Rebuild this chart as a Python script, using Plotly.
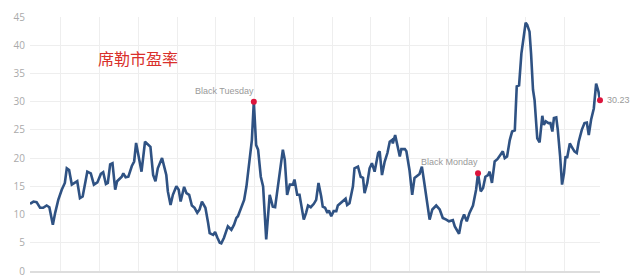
import plotly.graph_objects as go

# Shiller P/E (CAPE)
years = [
    1872.0, 1872.9, 1873.7, 1874.6, 1875.4, 1876.3, 1877.0, 1877.9, 1878.5, 1879.3,
    1880.2, 1881.0, 1881.5, 1882.1, 1882.8, 1883.6, 1884.2, 1884.9, 1885.6, 1886.8,
    1887.7, 1888.5, 1889.4, 1890.3, 1890.9, 1891.6, 1892.1, 1892.7, 1893.3, 1894.0,
    1894.5, 1895.7, 1896.1, 1896.7, 1897.4, 1898.3, 1898.9, 1899.4, 1900.0, 1900.8,
    1901.7, 1902.5, 1903.1, 1903.8, 1904.4, 1905.0, 1906.1, 1907.2, 1907.6, 1908.3,
    1908.9, 1909.8, 1910.4, 1910.9, 1911.8, 1912.4, 1913.1, 1913.8, 1914.5, 1915.2,
    1915.8, 1916.4, 1917.3, 1918.0, 1918.4, 1919.3, 1919.8, 1920.4, 1921.0, 1921.4,
    1922.1, 1923.1, 1923.6, 1924.0, 1924.7, 1925.3, 1925.7, 1926.6, 1927.3, 1927.9,
    1928.7, 1929.3, 1929.8, 1930.4, 1930.9, 1931.6, 1932.2, 1932.6, 1933.0, 1933.9,
    1934.7, 1935.3, 1936.5, 1937.3, 1937.8, 1938.4, 1939.1, 1939.9, 1940.3, 1941.0,
    1941.6, 1942.2, 1942.7, 1943.3, 1943.8, 1944.5, 1945.3, 1945.9, 1946.5, 1947.2,
    1947.6, 1948.2, 1948.8, 1949.2, 1949.8, 1950.4, 1951.1, 1951.5, 1952.2, 1953.0,
    1953.5, 1953.9, 1954.5, 1955.4, 1955.8, 1956.7, 1957.4, 1958.0, 1958.4, 1959.1,
    1959.7, 1960.3, 1961.0, 1961.9, 1962.3, 1962.9, 1963.6, 1964.3, 1964.9, 1965.5,
    1965.7, 1966.3, 1966.8, 1967.5, 1967.9, 1968.8, 1969.2, 1970.0, 1970.7, 1971.3,
    1972.6, 1973.2, 1973.7, 1974.8, 1975.2, 1975.9, 1976.9, 1977.8, 1978.6, 1979.5,
    1980.2, 1981.2, 1981.7, 1982.8, 1983.4, 1984.1, 1984.8, 1985.5, 1986.4, 1987.2,
    1987.7, 1988.4, 1989.0, 1989.6, 1990.3, 1990.7, 1991.3, 1992.0, 1992.7, 1993.5,
    1994.1, 1994.6, 1995.2, 1995.9, 1996.5, 1997.2, 1997.7, 1998.3, 1998.9, 1999.5,
    2000.0, 2000.4, 2001.0, 2001.4, 2001.9, 2002.3, 2003.0, 2003.6, 2004.3, 2004.7,
    2005.2, 2005.9, 2006.4, 2006.9, 2007.3, 2007.9, 2008.3, 2008.9, 2009.4, 2009.9,
    2010.3, 2010.7, 2011.4, 2011.9, 2012.6, 2013.2, 2013.7, 2014.5, 2015.2, 2015.8,
    2016.3, 2016.9, 2017.6, 2018.2, 2018.8, 2019.2,
]
pe = [
    11.9, 12.3, 12.2, 11.2, 11.2, 11.6, 11.3, 8.2, 10.3, 12.6,
    14.4, 15.6, 18.2, 17.9, 15.3, 15.6, 15.9, 12.9, 13.2, 17.6,
    17.3, 15.3, 15.7, 17.2, 17.5, 15.4, 15.6, 18.9, 19.1, 14.4,
    15.9, 16.7, 17.3, 16.6, 16.7, 18.6, 19.4, 22.7, 20.6, 17.6,
    22.9, 22.3, 22.0, 17.0, 15.9, 18.2, 20.0, 17.0, 14.1, 11.7,
    13.5, 15.0, 14.4, 12.3, 14.9, 13.8, 13.5, 11.6, 11.2, 10.3,
    10.9, 12.3, 11.2, 8.5, 6.7, 6.4, 6.9, 5.9, 5.0, 4.9,
    5.9, 7.9, 7.6, 7.3, 8.2, 9.4, 9.7, 11.2, 12.6, 15.0,
    19.7, 23.2, 30.0, 22.3, 21.5, 16.7, 15.0, 10.3, 5.6, 13.5,
    11.4, 11.3, 17.3, 21.5, 19.7, 13.5, 15.3, 15.3, 16.2, 13.5,
    13.5, 10.9, 9.1, 10.3, 11.6, 11.3, 11.9, 12.6, 15.6, 13.2,
    11.4, 11.2, 10.3, 10.7, 9.7, 10.6, 10.6, 11.6, 12.0, 12.6,
    12.8, 11.7, 12.0, 15.0, 18.2, 18.5, 16.7, 16.5, 13.8, 15.6,
    18.2, 19.1, 17.6, 20.9, 21.2, 17.0, 19.4, 20.9, 22.9, 23.2,
    22.6, 24.1, 22.3, 20.3, 21.6, 21.6, 21.2, 17.9, 13.5, 16.5,
    17.2, 18.5, 16.2, 10.9, 9.1, 10.9, 11.6, 10.9, 9.4, 9.1,
    8.8, 9.0, 7.9, 6.6, 8.8, 10.0, 8.8, 10.3, 11.6, 14.4,
    17.3, 14.1, 14.7, 16.7, 17.0, 17.6, 15.6, 19.4, 19.8, 20.6,
    21.2, 20.0, 20.3, 23.2, 24.7, 24.9, 32.7, 32.9, 38.5, 41.5,
    44.0, 43.6, 42.4, 38.5, 32.1, 30.3, 23.5, 22.8, 27.5, 25.9,
    26.5, 26.2, 26.2, 24.7, 27.1, 27.2, 25.0, 20.3, 15.3, 17.3,
    20.3, 20.0, 22.6, 22.0, 21.2, 20.9, 22.9, 25.0, 26.2, 26.3,
    24.1, 26.8, 28.8, 33.2, 31.8, 30.23,
]

event_names = ["Black Tuesday", "Black Monday"]
event_years = [1929.8, 1987.7]
title_text = "席勒市盈率"
y_ticks = [0, 5, 10, 15, 20, 25, 30, 35, 40, 45]

ev_vals = [pe[years.index(y)] for y in event_years]
mk_x = event_years + [years[-1]]
mk_y = ev_vals + [pe[-1]]

fig = go.Figure()
fig.add_trace(go.Scatter(
    x=years, y=pe, mode="lines",
    line=dict(color="#2f5283", width=2.6, shape="linear"),
    hoverinfo="skip", showlegend=False, cliponaxis=False,
))
fig.add_trace(go.Scatter(
    x=mk_x, y=mk_y, mode="markers",
    marker=dict(color="#dc143c", size=6),
    showlegend=False, cliponaxis=False,
))

annotations = []
for name, yr, v in zip(event_names, event_years, ev_vals):
    annotations.append(dict(
        x=yr, y=v, xref="x", yref="y", text=name, showarrow=False,
        xanchor="right", yanchor="bottom", xshift=2, yshift=4,
        font=dict(family="Liberation Sans, Arial", size=9, color="#9a9a9a"),
    ))
annotations.append(dict(
    x=years[-1], y=pe[-1], xref="x", yref="y", text=f"{pe[-1]:.2f}",
    showarrow=False, xanchor="left", yanchor="middle", xshift=5,
    font=dict(family="Liberation Sans, Arial", size=9, color="#9a9a9a"),
))
annotations.append(dict(
    x=0.19, y=0.84, xref="paper", yref="paper", text=title_text,
    showarrow=False, xanchor="center", yanchor="middle",
    font=dict(family="Noto Sans CJK SC", size=16, color="#d9302c"),
))

fig.update_layout(
    width=640, height=276,
    margin=dict(l=30, r=40, t=17, b=5, autoexpand=False),
    paper_bgcolor="white", plot_bgcolor="white",
    annotations=annotations,
    xaxis=dict(
        range=[1872.0, 2019.2], tick0=1880, dtick=10,
        showticklabels=False, ticks="", automargin=False,
        showgrid=True, gridcolor="#eeeeee", gridwidth=1,
        zeroline=False, showline=True, linecolor="#dddddd", linewidth=2,
    ),
    yaxis=dict(
        range=[0, 45], tickvals=y_ticks, automargin=False,
        showgrid=True, gridcolor="#eeeeee", gridwidth=1,
        zeroline=False, showline=False, ticks="",
        tickfont=dict(family="Open Sans", size=10, color="#aaaaaa"),
        ticklabelstandoff=4, ticklabeloverflow="allow",
    ),
)

fig.write_html("out.html")
